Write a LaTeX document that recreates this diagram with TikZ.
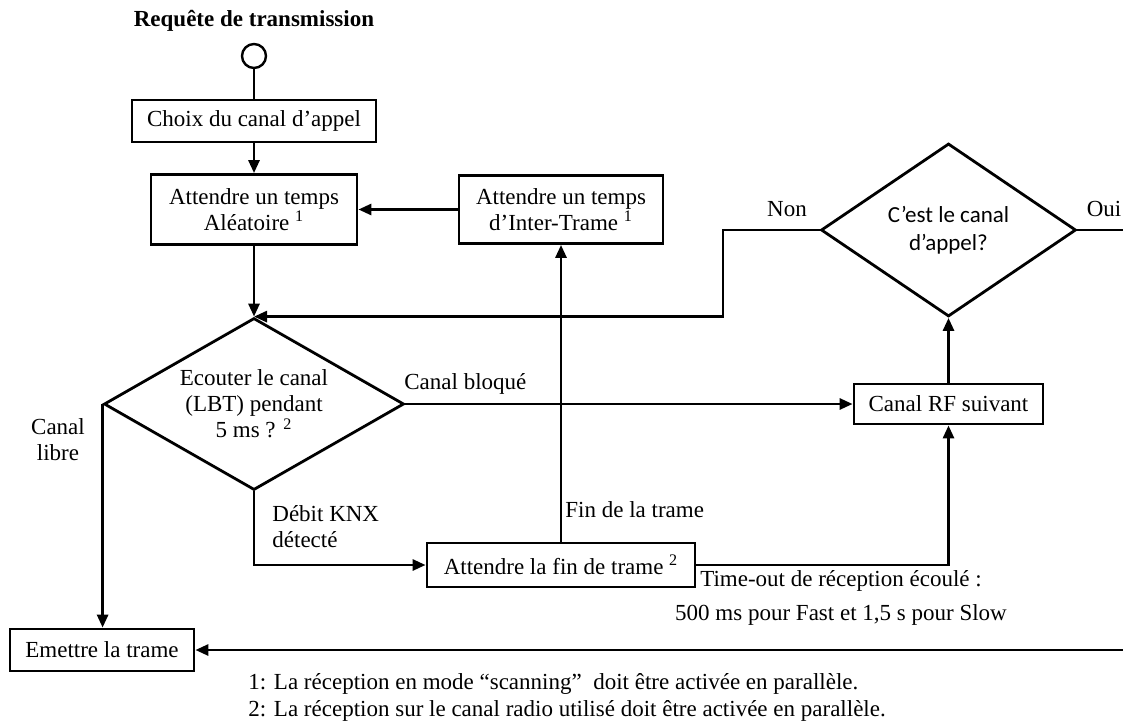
\documentclass[tikz,border=0pt]{standalone}
\usepackage{fontspec}
\setmainfont{Liberation Serif}
\newfontfamily\calibri{Carlito}
\usetikzlibrary{shapes.geometric, arrows.meta, positioning}

\begin{document}
\begin{tikzpicture}[
    x=0.5pt, y=-0.5pt,
    font=\fontsize{11.5}{13}\selectfont,
    box/.style={rectangle, draw, line width=1.4pt, align=center, inner sep=2pt},
    decision/.style={diamond, draw, line width=1.4pt, align=center, inner sep=0pt},
    arrow/.style={-{Triangle[length=6.5pt,width=5.5pt]}, line width=1.4pt},
    link/.style={line width=1.4pt},
    lbl/.style={align=center, inner sep=0pt}
]
    \useasboundingbox (0,0) rectangle (1123,722);

    % Start
    \node[lbl, font=\fontsize{11.5}{13}\selectfont\bfseries] (titre) at (254,21) {Requête de transmission};
    \node[circle, draw, line width=1.2pt, minimum size=12pt, inner sep=0pt] (debut) at (254,56) {};

    % Main column
    \node[box, minimum width=122pt, minimum height=21pt] (choix) at (254,121) {Choix du canal d’appel};
    \node[box, minimum width=103pt, minimum height=35pt] (alea) at (254,209.5) {Attendre un temps\\Aléatoire \textsuperscript{1}};
    \node[box, minimum width=102pt, minimum height=34pt] (inter) at (561,209.5) {Attendre un temps\\d’Inter-Trame \textsuperscript{1}};
    \node[decision, aspect=1.74, minimum width=150pt, minimum height=86pt] (lbt) at (254,404) {Ecouter le canal\\(LBT) pendant\\5 ms ? \textsuperscript{2}};
    \node[box, minimum width=134pt, minimum height=22pt] (fin) at (561,565) {Attendre la fin de trame \textsuperscript{2}};
    \node[box, minimum width=92pt, minimum height=21pt] (emet) at (102,650) {Emettre la trame};

    % Right column
    \node[box, minimum width=94.5pt, minimum height=20pt] (rf) at (948.5,404) {Canal RF suivant};
    \node[decision, aspect=1.47, minimum width=127.5pt, minimum height=86.5pt, font=\calibri\fontsize{11.5}{14}\selectfont] (appel) at (948.5,230) {C’est le canal\\d’appel?};

    % Free ends and bends
    \coordinate (nonbas) at (723,317);
    \coordinate (ouifin) at (1123,230);
    \coordinate (retour) at (1123,650);

    % Arrows
    \draw[link] (debut) -- (choix);
    \draw[arrow] (choix) -- (alea);
    \draw[arrow] (inter) -- (alea);
    \draw[arrow] (alea) -- (lbt.north);
    \draw[arrow] (lbt.west) -- (lbt.west |- emet.north);
    \draw[arrow] (lbt.east) -- (rf.west);
    \draw[arrow] (lbt.south) |- (fin.west);
    \draw[arrow] (fin.north) -- (inter.south);
    \draw[arrow] (fin.east) -| (rf.south);
    \draw[arrow] (rf) -- (appel.south);
    \draw[arrow] (appel.west) -| (nonbas |- lbt.north) -- (lbt.north);
    \draw[link] (appel.east) -- (ouifin);
    \draw[arrow] (retour) -- (emet.east);

    % Labels
    \node[lbl] (non) at (787,209) {Non};
    \node[lbl] (oui) at (1104,209) {Oui};
    \node[lbl, anchor=west] (bloque) at (404,384) {Canal bloqué};
    \node[lbl] (libre) at (58,440) {Canal\\libre};
    \node[lbl, align=left, anchor=west] (debit) at (272,527) {Débit KNX\\détecté};
    \node[lbl, anchor=west] (finlbl) at (565,510) {Fin de la trame};
    \node[lbl] (timeout) at (841,598) {Time-out de réception écoulé :\\[4pt]500 ms pour Fast et 1,5 s pour Slow};

    % Notes
    \node[lbl, align=left, anchor=west] (notes) at (248,697) {1: La réception en mode “scanning”~ doit être activée en parallèle.\\[0.5pt]2: La réception sur le canal radio utilisé doit être activée en parallèle.};

\end{tikzpicture}
\end{document}
